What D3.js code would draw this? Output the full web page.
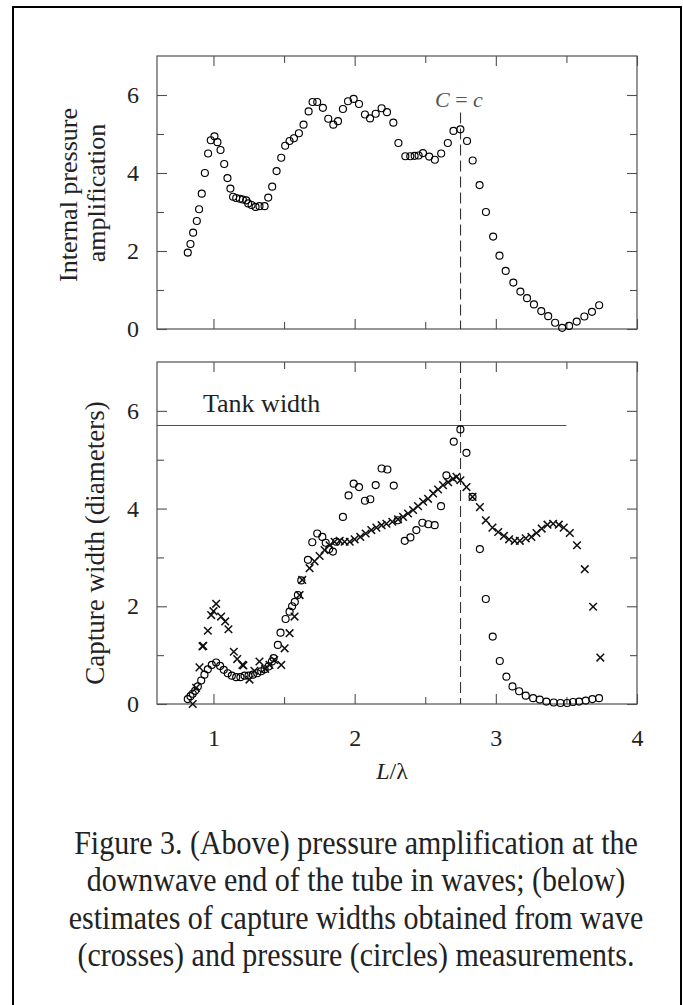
<!DOCTYPE html>
<html>
<head>
<meta charset="utf-8">
<script src="https://cdn.jsdelivr.net/npm/d3@7"></script>
<style>
  body { margin: 0; background: #fff; }
  svg text { font-family: "Liberation Serif", "Times New Roman", serif; fill: #222; }
</style>
</head>
<body>
<svg id="fig" width="683" height="1005"></svg>
<script>
// data: [L/lambda, value]
const xMajorTicks = [1, 2, 3, 4];
const xMinorTicks = [1.5, 2.5, 3.5];
const yMajorTicks = [0, 2, 4, 6];
const yMinorTicks = [1, 3, 5];

const pressureAmp = [
  [0.818,1.96],[0.837,2.18],[0.856,2.47],[0.882,2.77],[0.898,3.07],[0.917,3.47],[0.939,4.0],[0.962,4.5],
  [0.981,4.84],[1.007,4.94],[1.028,4.79],[1.05,4.59],[1.076,4.23],[1.099,3.87],[1.12,3.6],[1.139,3.39],
  [1.161,3.36],[1.187,3.34],[1.208,3.32],[1.232,3.3],[1.246,3.22],[1.27,3.18],[1.298,3.13],[1.326,3.15],
  [1.362,3.15],[1.388,3.37],[1.416,3.65],[1.447,4.05],[1.48,4.39],[1.508,4.7],[1.539,4.82],[1.57,4.89],
  [1.605,5.02],[1.638,5.24],[1.674,5.58],[1.702,5.82],[1.735,5.82],[1.775,5.67],[1.813,5.39],[1.849,5.24],
  [1.882,5.33],[1.917,5.64],[1.953,5.84],[1.993,5.9],[2.031,5.77],[2.073,5.5],[2.109,5.4],[2.149,5.52],
  [2.191,5.66],[2.229,5.56],[2.274,5.29],[2.31,4.77],[2.359,4.43],[2.394,4.43],[2.425,4.44],[2.453,4.45],
  [2.484,4.51],[2.528,4.42],[2.568,4.34],[2.613,4.5],[2.66,4.77],[2.7,5.08],[2.749,5.12],[2.796,4.82],
  [2.836,4.32],[2.885,3.69],[2.93,3.0],[2.981,2.37],[3.026,1.88],[3.07,1.49],[3.124,1.19],[3.174,0.96],
  [3.221,0.79],[3.27,0.63],[3.322,0.46],[3.371,0.33],[3.42,0.16],[3.47,0.03],[3.519,0.08],[3.573,0.19],
  [3.627,0.32],[3.681,0.44],[3.732,0.61]
];

// capture width from wave measurements (crosses)
const captureWave = [
  [0.853,0.0],[0.877,0.33],[0.901,0.75],[0.922,1.18],[0.928,1.19],[0.96,1.5],[0.984,1.82],[1.0,1.9],
  [1.019,2.05],[1.054,1.79],[1.083,1.69],[1.106,1.53],[1.144,1.07],[1.168,0.92],[1.205,0.8],[1.212,0.79],
  [1.255,0.5],[1.29,0.68],[1.326,0.87],[1.366,0.72],[1.397,0.8],[1.43,0.9],[1.48,0.8],[1.504,1.14],
  [1.539,1.45],[1.574,1.79],[1.61,2.23],[1.629,2.54],[1.681,2.78],[1.716,2.92],[1.752,3.03],[1.787,3.15],
  [1.822,3.25],[1.858,3.32],[1.894,3.34],[1.929,3.32],[1.965,3.32],[2.0,3.37],[2.04,3.42],[2.078,3.49],
  [2.118,3.56],[2.154,3.61],[2.191,3.66],[2.225,3.69],[2.267,3.73],[2.307,3.78],[2.343,3.83],[2.378,3.9],
  [2.414,3.97],[2.449,4.05],[2.485,4.14],[2.52,4.2],[2.556,4.31],[2.591,4.39],[2.626,4.48],[2.662,4.54],
  [2.697,4.61],[2.721,4.65],[2.749,4.58],[2.792,4.44],[2.835,4.24],[2.887,4.03],[2.929,3.76],[2.976,3.61],
  [3.017,3.52],[3.057,3.44],[3.094,3.37],[3.134,3.34],[3.17,3.34],[3.212,3.39],[3.252,3.42],[3.288,3.5],
  [3.325,3.59],[3.366,3.67],[3.406,3.69],[3.446,3.67],[3.481,3.61],[3.524,3.5],[3.575,3.25],[3.63,2.76],
  [3.689,1.99],[3.74,0.95]
];

// capture width from pressure measurements (circles)
const capturePressure = [
  [0.818,0.1],[0.837,0.16],[0.853,0.21],[0.87,0.27],[0.889,0.36],[0.913,0.48],[0.936,0.6],[0.96,0.71],
  [0.988,0.8],[1.019,0.85],[1.047,0.78],[1.073,0.7],[1.101,0.63],[1.13,0.58],[1.161,0.55],[1.191,0.55],
  [1.22,0.58],[1.248,0.58],[1.279,0.6],[1.31,0.63],[1.338,0.67],[1.362,0.71],[1.39,0.77],[1.414,0.87],
  [1.426,0.94],[1.456,1.21],[1.475,1.46],[1.511,1.74],[1.539,1.89],[1.557,2.0],[1.576,2.09],[1.598,2.23],
  [1.622,2.53],[1.669,2.95],[1.7,3.31],[1.735,3.49],[1.771,3.42],[1.795,3.3],[1.82,3.17],[1.846,3.12],
  [1.87,3.32],[1.917,3.83],[1.957,4.27],[1.993,4.51],[2.031,4.44],[2.073,4.16],[2.111,4.19],[2.149,4.48],
  [2.191,4.82],[2.232,4.8],[2.277,4.47],[2.305,3.76],[2.355,3.34],[2.395,3.41],[2.437,3.56],[2.48,3.71],
  [2.522,3.68],[2.567,3.66],[2.612,4.05],[2.65,4.68],[2.702,5.37],[2.749,5.62],[2.792,5.14],[2.835,4.24],
  [2.887,3.17],[2.929,2.15],[2.978,1.38],[3.028,0.88],[3.075,0.56],[3.118,0.36],[3.165,0.26],[3.212,0.17],
  [3.264,0.12],[3.311,0.09],[3.358,0.05],[3.41,0.03],[3.458,0.02],[3.505,0.02],[3.547,0.04],[3.59,0.05],
  [3.637,0.07],[3.684,0.1],[3.731,0.12]
];

const tankWidth = 5.7;
const tankWidthEnd = 3.5;
const criticalL = 2.75;
const criticalTopStart = 5.55;

const captionLines = [
  "Figure 3. (Above) pressure amplification at the",
  "downwave end of the tube in waves; (below)",
  "estimates of capture widths obtained from wave",
  "(crosses) and pressure (circles) measurements."
];

class CaptureFigure {
  constructor() {
    this.svg = d3.select("#fig");
    this.left = 157;
    this.right = 637;
    this.frameColor = "#505050";
    this.x = d3.scaleLinear().domain([0.6, 4]).range([this.left, this.right]);
    this.topY = d3.scaleLinear().domain([0, 7]).range([329, 56]);
    this.botY = d3.scaleLinear().domain([0, 7]).range([704, 362]);

    this.drawBorder();
    this.drawPanel(this.topY, false);
    this.drawPanel(this.botY, true);
    this.drawTopExtras();
    this.drawBottomExtras();
    this.drawCircles(pressureAmp, this.topY);
    this.drawCircles(capturePressure, this.botY);
    this.drawCrosses(captureWave, this.botY);
    this.drawLabels();
  }

  drawBorder() {
    this.svg.append("rect")
      .attr("x", 13).attr("y", 7)
      .attr("width", 668).attr("height", 1010)
      .attr("fill", "none")
      .attr("stroke", "#000")
      .attr("stroke-width", 2);
  }

  styleAxis(g) {
    g.select(".domain").remove();
    g.selectAll(".tick line").attr("stroke", this.frameColor).attr("stroke-width", 1.1);
    g.selectAll(".tick text")
      .attr("font-family", '"Liberation Serif", "Times New Roman", serif')
      .attr("font-size", 24)
      .attr("fill", "#1a1a1a");
  }

  drawPanel(y, withXLabels) {
    const [y0, y1] = y.range();
    const g = this.svg.append("g");

    g.append("rect")
      .attr("x", this.left).attr("y", y1)
      .attr("width", this.right - this.left).attr("height", y0 - y1)
      .attr("fill", "none")
      .attr("stroke", this.frameColor)
      .attr("stroke-width", 1.2);

    // y ticks, both sides, pointing inward
    g.append("g").attr("transform", `translate(${this.left},0)`)
      .call(d3.axisLeft(y).tickValues(yMajorTicks).tickSize(-10).tickPadding(18).tickFormat(d3.format("d")))
      .call((s) => this.styleAxis(s));
    g.append("g").attr("transform", `translate(${this.left},0)`)
      .call(d3.axisLeft(y).tickValues(yMinorTicks).tickSize(-7).tickFormat(""))
      .call((s) => this.styleAxis(s));
    g.append("g").attr("transform", `translate(${this.right},0)`)
      .call(d3.axisRight(y).tickValues(yMajorTicks).tickSize(-10).tickFormat(""))
      .call((s) => this.styleAxis(s));
    g.append("g").attr("transform", `translate(${this.right},0)`)
      .call(d3.axisRight(y).tickValues(yMinorTicks).tickSize(-7).tickFormat(""))
      .call((s) => this.styleAxis(s));

    // x ticks, top and bottom
    g.append("g").attr("transform", `translate(0,${y0})`)
      .call(d3.axisBottom(this.x).tickValues(xMajorTicks).tickSize(-10).tickPadding(25)
        .tickFormat(withXLabels ? d3.format("d") : ""))
      .call((s) => this.styleAxis(s));
    g.append("g").attr("transform", `translate(0,${y0})`)
      .call(d3.axisBottom(this.x).tickValues(xMinorTicks).tickSize(-7).tickFormat(""))
      .call((s) => this.styleAxis(s));
    g.append("g").attr("transform", `translate(0,${y1})`)
      .call(d3.axisTop(this.x).tickValues(xMajorTicks).tickSize(-10).tickFormat(""))
      .call((s) => this.styleAxis(s));
    g.append("g").attr("transform", `translate(0,${y1})`)
      .call(d3.axisTop(this.x).tickValues(xMinorTicks).tickSize(-7).tickFormat(""))
      .call((s) => this.styleAxis(s));
  }

  dashed(y, from, to) {
    this.svg.append("line")
      .attr("x1", this.x(criticalL)).attr("x2", this.x(criticalL))
      .attr("y1", y(from)).attr("y2", y(to))
      .attr("stroke", "#333")
      .attr("stroke-width", 1.1)
      .attr("stroke-dasharray", "11,5");
  }

  drawTopExtras() {
    this.dashed(this.topY, criticalTopStart, 0);
    const t = this.svg.append("text")
      .attr("x", 435).attr("y", 107)
      .attr("font-size", 22)
      .style("fill", "#555");
    t.append("tspan").attr("font-style", "italic").text("C");
    t.append("tspan").text(" = ");
    t.append("tspan").attr("font-style", "italic").text("c");
  }

  drawBottomExtras() {
    this.dashed(this.botY, 7, 0);
    this.svg.append("line")
      .attr("x1", this.x(0.6)).attr("x2", this.x(tankWidthEnd))
      .attr("y1", this.botY(tankWidth)).attr("y2", this.botY(tankWidth))
      .attr("stroke", this.frameColor)
      .attr("stroke-width", 1.1);
    this.svg.append("text")
      .attr("x", 203).attr("y", 412)
      .attr("font-size", 26)
      .text("Tank width");
  }

  drawCircles(data, y) {
    this.svg.append("g").selectAll("circle")
      .data(data)
      .join("circle")
      .attr("cx", (d) => this.x(d[0]))
      .attr("cy", (d) => y(d[1]))
      .attr("r", 3.5)
      .attr("fill", "none")
      .attr("stroke", "#000")
      .attr("stroke-width", 1.15);
  }

  drawCrosses(data, y) {
    const s = 3.8;
    this.svg.append("g").selectAll("path")
      .data(data)
      .join("path")
      .attr("transform", (d) => `translate(${this.x(d[0])},${y(d[1])})`)
      .attr("d", `M${-s},${-s}L${s},${s}M${-s},${s}L${s},${-s}`)
      .attr("stroke", "#111")
      .attr("stroke-width", 1.5);
  }

  drawLabels() {
    // x label
    const xl = this.svg.append("text")
      .attr("x", 392).attr("y", 779)
      .attr("text-anchor", "middle")
      .attr("font-size", 24);
    xl.append("tspan").attr("font-style", "italic").text("L");
    xl.append("tspan").text("/λ");

    // y labels
    this.svg.append("text")
      .attr("transform", "translate(77,195) rotate(-90)")
      .attr("text-anchor", "middle")
      .attr("font-size", 26)
      .text("Internal pressure");
    this.svg.append("text")
      .attr("transform", "translate(105,193) rotate(-90)")
      .attr("text-anchor", "middle")
      .attr("font-size", 26)
      .text("amplification");
    this.svg.append("text")
      .attr("transform", "translate(104,543) rotate(-90)")
      .attr("text-anchor", "middle")
      .attr("font-size", 27)
      .text("Capture width (diameters)");

    // caption, glyphs a little taller than wide as in the scan
    this.svg.append("g").selectAll("text")
      .data(captionLines)
      .join("text")
      .attr("transform", (d, i) => `translate(356,${854 + i * 37.4}) scale(1,1.1)`)
      .attr("text-anchor", "middle")
      .attr("font-size", 30)
      .text((d) => d);
  }
}

new CaptureFigure();
</script>
</body>
</html>
